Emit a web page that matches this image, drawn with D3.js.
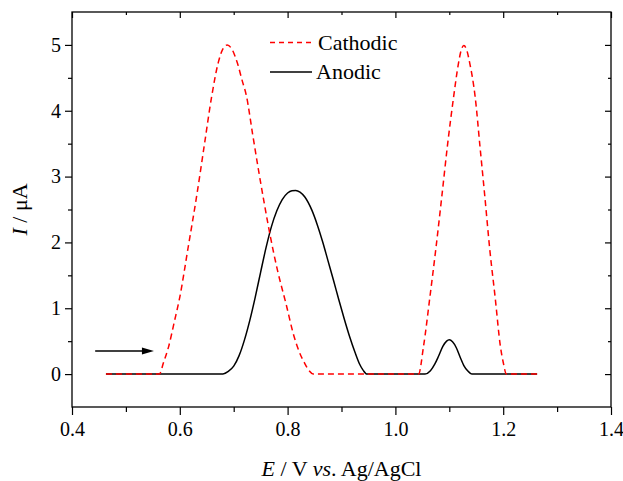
<!DOCTYPE html>
<html>
<head>
<meta charset="utf-8">
<script src="https://cdn.jsdelivr.net/npm/d3@7"></script>
<style>
  body { margin: 0; background: #fff; }
  svg { display: block; font-family: "Liberation Serif", "Times New Roman", serif; }
  .axis path { display: none; }
  .axis line { stroke: #000; stroke-width: 1.2; }
</style>
</head>
<body>
<div id="chart"></div>
<script>
// cathodic scan (red dashed)
const cathodicE = [0.463, 0.562, 0.570, 0.579, 0.590, 0.600, 0.615, 0.631, 0.645, 0.659, 0.671, 0.680, 0.688, 0.697, 0.707, 0.715, 0.724, 0.735, 0.746, 0.757, 0.768, 0.782, 0.797, 0.812, 0.822, 0.832, 0.840, 0.848,
  1.043, 1.052, 1.064, 1.075, 1.086, 1.097, 1.108, 1.117, 1.122, 1.127, 1.132, 1.138, 1.148, 1.157, 1.166, 1.175, 1.185, 1.195, 1.200, 1.206, 1.263];
const cathodicI = [0, 0, 0.18, 0.41, 0.80, 1.17, 1.90, 2.69, 3.45, 4.21, 4.72, 4.94, 5.00, 4.93, 4.72, 4.48, 4.21, 3.65, 3.10, 2.58, 2.09, 1.55, 1.07, 0.57, 0.33, 0.16, 0.05, 0,
  0, 0.41, 1.17, 1.90, 2.69, 3.50, 4.21, 4.72, 4.92, 4.99, 4.93, 4.72, 4.21, 3.45, 2.69, 1.90, 1.17, 0.41, 0.18, 0, 0];
// anodic scan (black solid)
const anodicE = [0.463, 0.680, 0.690, 0.700, 0.710, 0.720, 0.730, 0.740, 0.750, 0.760, 0.770, 0.780, 0.790, 0.800, 0.808, 0.815, 0.823, 0.832, 0.845, 0.855, 0.865, 0.875, 0.885, 0.895, 0.905, 0.915, 0.925, 0.933, 0.940, 0.947,
  1.055, 1.065, 1.073, 1.080, 1.088, 1.095, 1.100, 1.106, 1.113, 1.120, 1.127, 1.134, 1.142, 1.263];
const anodicI = [0, 0, 0.04, 0.12, 0.28, 0.52, 0.82, 1.17, 1.55, 1.92, 2.24, 2.48, 2.65, 2.75, 2.785, 2.79, 2.765, 2.69, 2.49, 2.27, 2.01, 1.72, 1.43, 1.13, 0.84, 0.57, 0.33, 0.16, 0.06, 0,
  0, 0.05, 0.15, 0.27, 0.42, 0.50, 0.52, 0.49, 0.40, 0.26, 0.13, 0.05, 0, 0];
// axis ticks
const xTicks = [0.4, 0.6, 0.8, 1.0, 1.2, 1.4];
const xMinor = [0.5, 0.7, 0.9, 1.1, 1.3];
const yTicks = [0, 1, 2, 3, 4, 5];
const yMinor = [0.5, 1.5, 2.5, 3.5, 4.5];
// scan direction arrow (E, I)
const arrowFrom = [0.443, 0.35];
const arrowTo = [0.552, 0.35];

const width = 623, height = 481;
const margin = { top: 12, right: 12, bottom: 74, left: 72 };
const w = width - margin.left - margin.right;
const h = height - margin.top - margin.bottom;

const svg = d3.select('#chart').append('svg').attr('width', width).attr('height', height);
const g = svg.append('g').attr('transform', 'translate(' + margin.left + ',' + margin.top + ')');

const x = d3.scaleLinear().domain([0.4, 1.4]).range([0, w]);
const y = d3.scaleLinear().domain([-0.5, 5.5]).range([h, 0]);

// helper so tick labels use the serif font
function styleAxis(sel) {
  sel.attr('font-family', null).attr('font-size', null);
  sel.selectAll('text')
    .style('font-family', '"Liberation Serif", "Times New Roman", serif')
    .style('font-size', '20px')
    .attr('fill', '#000');
}

// axes: outward ticks on left/bottom, inward on top/right
g.append('g').attr('class', 'axis').attr('transform', 'translate(0,' + h + ')')
  .call(d3.axisBottom(x).tickValues(xTicks).tickFormat(d3.format('.1f')).tickSize(8).tickPadding(7))
  .call(styleAxis);
g.append('g').attr('class', 'axis').attr('transform', 'translate(0,' + h + ')')
  .call(d3.axisBottom(x).tickValues(xMinor).tickFormat('').tickSize(5));
g.append('g').attr('class', 'axis')
  .call(d3.axisTop(x).tickValues(xTicks).tickFormat('').tickSize(-6));
g.append('g').attr('class', 'axis')
  .call(d3.axisTop(x).tickValues(xMinor).tickFormat('').tickSize(-3));
g.append('g').attr('class', 'axis')
  .call(d3.axisLeft(y).tickValues(yTicks).tickFormat(d3.format('d')).tickSize(7).tickPadding(4))
  .call(styleAxis);
g.append('g').attr('class', 'axis')
  .call(d3.axisLeft(y).tickValues(yMinor).tickFormat('').tickSize(4));
g.append('g').attr('class', 'axis').attr('transform', 'translate(' + w + ',0)')
  .call(d3.axisRight(y).tickValues(yTicks).tickFormat('').tickSize(-6));
g.append('g').attr('class', 'axis').attr('transform', 'translate(' + w + ',0)')
  .call(d3.axisRight(y).tickValues(yMinor).tickFormat('').tickSize(-3));

// frame
g.append('rect').attr('width', w).attr('height', h)
  .attr('fill', 'none').attr('stroke', '#000').attr('stroke-width', 1.3);

// curves
const line = d3.line()
  .x(d => x(d[0]))
  .y(d => y(d[1]))
  .curve(d3.curveMonotoneX);

const cathodic = cathodicE.map((e, i) => [e, cathodicI[i]]);
const anodic = anodicE.map((e, i) => [e, anodicI[i]]);

g.append('path').datum(anodic).attr('d', line)
  .attr('fill', 'none').attr('stroke', '#000').attr('stroke-width', 1.5);
g.append('path').datum(cathodic).attr('d', line)
  .attr('fill', 'none').attr('stroke', '#ff0000').attr('stroke-width', 1.5)
  .attr('stroke-dasharray', '6,4');

// arrow
const ax1 = x(arrowFrom[0]), ay = y(arrowFrom[1]), ax2 = x(arrowTo[0]);
g.append('line').attr('x1', ax1).attr('y1', ay).attr('x2', ax2 - 8).attr('y2', ay)
  .attr('stroke', '#000').attr('stroke-width', 1.5);
g.append('path')
  .attr('d', 'M' + ax2 + ',' + ay + 'L' + (ax2 - 12) + ',' + (ay - 3.5) + 'L' + (ax2 - 12) + ',' + (ay + 3.5) + 'Z')
  .attr('fill', '#000');

// legend
const legend = svg.append('g');
legend.append('line').attr('x1', 270).attr('x2', 312).attr('y1', 42.5).attr('y2', 42.5)
  .attr('stroke', '#ff0000').attr('stroke-width', 1.5).attr('stroke-dasharray', '5,4');
legend.append('text').attr('x', 318).attr('y', 50).attr('font-size', 22).text('Cathodic');
legend.append('line').attr('x1', 270).attr('x2', 312).attr('y1', 72).attr('y2', 72)
  .attr('stroke', '#000').attr('stroke-width', 1.5);
legend.append('text').attr('x', 316).attr('y', 79).attr('font-size', 22).text('Anodic');

// axis titles
const xt = svg.append('text').attr('x', margin.left + w / 2).attr('y', 476)
  .attr('text-anchor', 'middle').attr('font-size', 22);
xt.append('tspan').attr('font-style', 'italic').text('E');
xt.append('tspan').text(' / V ');
xt.append('tspan').attr('font-style', 'italic').text('vs');
xt.append('tspan').text('. Ag/AgCl');

const yt = svg.append('text')
  .attr('transform', 'translate(27,' + (margin.top + h / 2) + ') rotate(-90)')
  .attr('text-anchor', 'middle').attr('font-size', 22);
yt.append('tspan').attr('font-style', 'italic').text('I');
yt.append('tspan').text(' / μA');
</script>
</body>
</html>
